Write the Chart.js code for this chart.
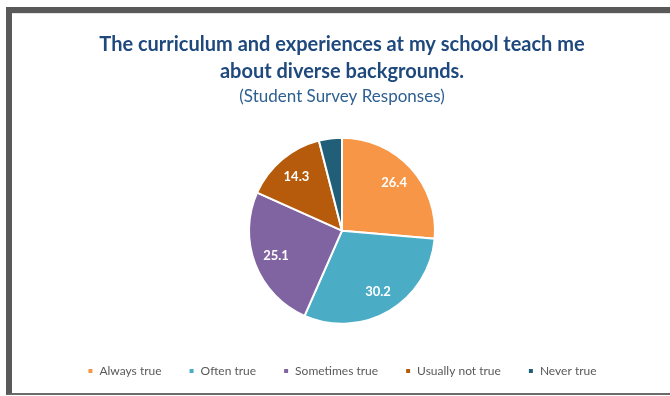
<!DOCTYPE html>
<html>
<head>
<meta charset="utf-8">
<title>Student Survey Responses</title>
<script src="https://cdn.jsdelivr.net/npm/chart.js@4/dist/chart.umd.min.js"></script>
<style>
  html, body { margin: 0; padding: 0; background: #fff; overflow: hidden; }
  .frame {
    position: absolute; left: 6px; top: 7px;
    width: 670px; height: 380px;
    border-top: 6px solid #595959;
    border-left: 6px solid #595959;
    border-bottom: 2px solid #6b6b6b;
    background: #fff;
  }
  .frame::before {
    content: ''; position: absolute; left: 0; right: 0; top: 0;
    border-top: 1px solid #e4e4e4;
  }
  .wrap { position: absolute; left: 12px; top: 13px; width: 658px; height: 380px; }
</style>
</head>
<body>
<div class="frame"></div>
<div class="wrap"><canvas id="pie"></canvas></div>
<script>
/* survey pie */

const CATEGORIES = ['Always true', 'Often true', 'Sometimes true', 'Usually not true', 'Never true'];
const VALUES     = [26.4, 30.2, 25.1, 14.3, 4.0];
const COLORS     = ['#f79646', '#4bacc6', '#8064a2', '#b65b0c', '#215f79'];

const TITLE_LINES = ['The curriculum and experiences at my school teach me', 'about diverse backgrounds.'];
const SUBTITLE    = '(Student Survey Responses)';

const LABEL_MIN = 5;   // small slices get no label

const sliceLabels = {
  id: 'sliceLabels',
  afterDatasetsDraw(chart) {
    const ctx  = chart.ctx;
    const meta = chart.getDatasetMeta(0);
    ctx.save();
    ctx.font = 'bold 13px Lato';
    ctx.fillStyle = '#ffffff';
    ctx.textAlign = 'center';
    ctx.textBaseline = 'middle';
    meta.data.forEach((arc, i) => {
      const v = VALUES[i];
      if (v < LABEL_MIN) return;
      const p   = arc.getProps(['x', 'y', 'startAngle', 'endAngle', 'outerRadius'], true);
      const mid = (p.startAngle + p.endAngle) / 2;
      const r   = p.outerRadius * 0.76;
      ctx.fillText(v.toFixed(1), p.x + Math.cos(mid) * r, p.y + Math.sin(mid) * r);
    });
    ctx.restore();
  }
};

new Chart(document.getElementById('pie'), {
  type: 'pie',
  data: {
    labels: CATEGORIES,
    datasets: [{
      data: VALUES,
      backgroundColor: COLORS,
      borderColor: '#ffffff',
      borderWidth: 2,
      radius: 93,
    }]
  },
  options: {
    responsive: true,
    maintainAspectRatio: false,
    animation: false,
    layout: { padding: { left: 2, right: 0, top: 0, bottom: 6 } },
    plugins: {
      title: {
        display: true,
        text: TITLE_LINES,
        color: '#1f497d',
        font: { family: 'Lato', size: 20, weight: 'bold', lineHeight: '27px' },
        padding: { top: 18, bottom: 0 },
      },
      subtitle: {
        display: true,
        text: SUBTITLE,
        color: '#2d5f91',
        font: { family: 'Lato', size: 17, lineHeight: 1.2 },
        padding: { top: 1, bottom: 17 },
      },
      legend: {
        position: 'bottom',
        labels: {
          boxWidth: 6,
          boxHeight: 6,
          padding: 27,
          color: '#595959',
          font: { family: 'Lato', size: 12 },
        },
      },
      tooltip: { enabled: false },
    },
  },
  plugins: [sliceLabels],
});
</script>
</body>
</html>
